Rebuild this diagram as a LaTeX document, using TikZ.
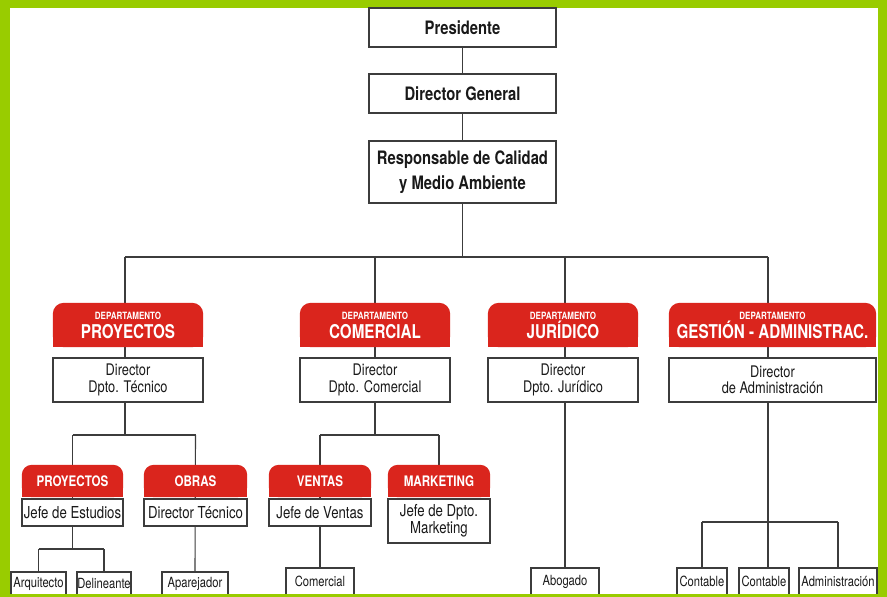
\documentclass[tikz,border=0pt]{standalone}
\usepackage{fontspec}
\setmainfont[FakeStretch=0.8]{TeX Gyre Heros}
\pgfdeclarelayer{back}
\pgfdeclarelayer{lines}
\pgfdeclarelayer{shapes}
\pgfsetlayers{back,lines,shapes,main}
\definecolor{frame}{RGB}{153,204,0}
\definecolor{dred}{RGB}{218,37,29}
\definecolor{lc}{RGB}{60,60,60}
\newcommand\myfs[2]{\fontsize{#1}{#2}\selectfont}
\tikzset{
  wbox/.style={draw=lc, line width=1.2pt, fill=white, inner sep=0pt, align=center, text=black!90},
  topbox/.style={wbox, minimum width=187pt, font=\myfs{18.5}{25}\bfseries},
  dbox/.style={wbox, minimum height=44pt, font=\myfs{16}{16.5}},
  sbox/.style={wbox, font=\myfs{16.5}{16.5}},
  bbox/.style={wbox, font=\myfs{14}{14}},
  rhead/.style={inner sep=0pt, align=center, text=white, minimum height=44pt, font=\myfs{19}{19}\bfseries},
  shead/.style={inner sep=0pt, align=center, text=white, minimum height=32pt, font=\myfs{14.5}{14.5}\bfseries},
  conn/.style={draw=lc, line width=1.1pt},
}
\newcommand\dep{{\myfs{10}{12}DEPARTAMENTO}\\}
\begin{document}
\begin{tikzpicture}[x=1pt,y=-1pt]
\useasboundingbox (0,0) rectangle (887,597);
\begin{pgfonlayer}{back}
  \fill[frame] (0,0) rectangle (887,597);
  \fill[white] (10,8) rectangle (878,594);
\end{pgfonlayer}

% top
\node[topbox, minimum height=39pt] (pres) at (462.5,27.5) {Presidente};
\node[topbox, minimum height=39pt] (dg) at (462.5,93.5) {Director General};
\node[topbox, minimum height=62pt] (resp) at (462.5,172) {Responsable de Calidad\\y Medio Ambiente};

% department headers
\node[rhead, minimum width=150pt] (ph) at (128,325) {\dep PROYECTOS};
\node[rhead, minimum width=150pt] (ch) at (375,325) {\dep COMERCIAL};
\node[rhead, minimum width=150pt] (jh) at (563,325) {\dep JURÍDICO};
\node[rhead, minimum width=207pt] (gh) at (772.5,325) {\dep GESTIÓN - ADMINISTRAC.};

% department directors
\node[dbox, minimum width=150pt] (dtec) at (128,380) {Director\\Dpto. Técnico};
\node[dbox, minimum width=150pt] (dcom) at (375,380) {Director\\Dpto. Comercial};
\node[dbox, minimum width=150pt] (djur) at (563,380) {Director\\Dpto. Jurídico};
\node[dbox, minimum width=207pt] (dadm) at (772.5,380) {Director\\de Administración};

% sub headers
\node[shead, minimum width=101pt] (sp) at (72.5,481) {PROYECTOS};
\node[shead, minimum width=103pt] (so) at (195.5,481) {OBRAS};
\node[shead, minimum width=102pt] (sv) at (320,481) {VENTAS};
\node[shead, minimum width=102pt] (sm) at (439,481) {MARKETING};

% sub boxes
\node[sbox, minimum width=101pt, minimum height=27pt] (jest) at (72.5,512.5) {Jefe de Estudios};
\node[sbox, minimum width=103pt, minimum height=27pt] (dtecn) at (195.5,512.5) {Director Técnico};
\node[sbox, minimum width=102pt, minimum height=27pt] (jven) at (320,512.5) {Jefe de Ventas};
\node[sbox, minimum width=102pt, minimum height=44pt] (jmkt) at (439,521) {Jefe de Dpto.\\Marketing};

% bottom boxes
\node[bbox, minimum width=55pt, minimum height=23pt] (arq) at (38.5,583.5) {Arquitecto};
\node[bbox, minimum width=54pt, minimum height=23pt] (del) at (104,583.5) {Delineante};
\node[bbox, minimum width=66pt, minimum height=23pt] (apa) at (195,583.5) {Aparejador};
\node[bbox, minimum width=68pt, minimum height=27pt] (com) at (320,581.5) {Comercial};
\node[bbox, minimum width=68pt, minimum height=27pt] (abog) at (565,581.5) {Abogado};
\node[bbox, minimum width=50pt, minimum height=27pt] (c1) at (702,581.5) {Contable};
\node[bbox, minimum width=50pt, minimum height=27pt] (c2) at (764,581.5) {Contable};
\node[bbox, minimum width=78pt, minimum height=27pt] (adm) at (838,581.5) {Administración};

% red shapes
\begin{pgfonlayer}{shapes}
  \foreach \n/\r in {ph/11,ch/11,jh/11,gh/11,sp/10,so/10,sv/10,sm/10}{
    \fill[dred, rounded corners=\r pt] (\n.south west) rectangle (\n.north east);
    \fill[dred] (\n.south west) rectangle (\n.east);
  }
\end{pgfonlayer}

% connectors
\coordinate (bus) at (0,257);
\coordinate (sb1) at (0,435);
\coordinate (sb3) at (0,549);
\coordinate (sb4) at (0,522);
\coordinate (px) at (125,0);
\coordinate (jx) at (565,0);
\coordinate (gx) at (768,0);
\begin{pgfonlayer}{lines}
  \draw[conn] (pres.south) -- (dg.north);
  \draw[conn] (dg.south) -- (resp.north);
  \draw[conn] (resp.south) -- (resp.south |- bus);
  \draw[conn] (px |- bus) -- (gx |- bus);
  \draw[conn] (px |- bus) -- (px |- sb1);
  \draw[conn] (ch.north |- bus) -- (ch.north |- sb1);
  \draw[conn] (jx |- bus) -- (jx |- abog.north);
  \draw[conn] (gx |- bus) -- (gx |- c2.north);
  % proyectos branch
  \draw[conn] (sp.north |- sb1) -- (so.north |- sb1);
  \draw[conn] (sp.north |- sb1) -- (jest.south |- sb3);
  \draw[conn] (arq.north |- sb3) -- (del.north |- sb3);
  \draw[conn] (arq.north |- sb3) -- (arq.north);
  \draw[conn] (del.north |- sb3) -- (del.north);
  \draw[conn] (so.north |- sb1) -- (apa.north);
  % comercial branch
  \draw[conn] (sv.north |- sb1) -- (sm.north |- sb1);
  \draw[conn] (sv.north |- sb1) -- (com.north);
  \draw[conn] (sm.north |- sb1) -- (sm.north);
  % gestion branch
  \draw[conn] (c1.north |- sb4) -- (adm.north |- sb4);
  \draw[conn] (c1.north |- sb4) -- (c1.north);
  \draw[conn] (adm.north |- sb4) -- (adm.north);
\end{pgfonlayer}

\fill[frame] (0,594) rectangle (887,597);
\end{tikzpicture}
\end{document}
